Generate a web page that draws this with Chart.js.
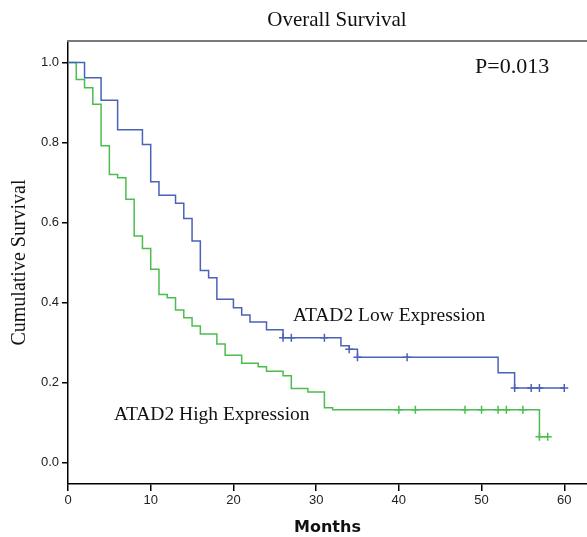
<!DOCTYPE html>
<html><head><meta charset="utf-8">
<script src="https://cdn.jsdelivr.net/npm/chart.js@4.4.0/dist/chart.umd.min.js"></script>
<style>html,body{margin:0;padding:0;background:#fff}#wrap{width:587px;height:537px}</style>
</head><body><div id="wrap"><canvas id="c" width="587" height="537"></canvas></div>
<script>
// ATAD2 Low Expression: event times (months) and survival after each step
const lowTimes = [0, 2, 4, 6, 9, 10, 11, 13, 14, 15, 16, 17, 18, 20, 21, 22, 24, 26, 33, 34, 35, 52, 54, 60];
const lowSurv  = [1.0, 0.962, 0.906, 0.832, 0.795, 0.702, 0.668, 0.648, 0.610, 0.554, 0.480, 0.462, 0.408, 0.387, 0.369, 0.351, 0.332, 0.312, 0.292, 0.283, 0.263, 0.224, 0.186, 0.186];
const lowCensored = [26, 27, 31, 34, 35, 41, 54, 56, 57, 60];

// ATAD2 High Expression
const highTimes = [0, 1, 2, 3, 4, 5, 6, 7, 8, 9, 10, 11, 12, 13, 14, 15, 16, 18, 19, 21, 23, 24, 26, 27, 29, 31, 32, 57, 58];
const highSurv  = [1.0, 0.958, 0.937, 0.896, 0.792, 0.720, 0.712, 0.658, 0.566, 0.535, 0.483, 0.420, 0.412, 0.381, 0.362, 0.341, 0.321, 0.296, 0.268, 0.248, 0.239, 0.228, 0.217, 0.185, 0.176, 0.137, 0.132, 0.064, 0.064];
const highCensored = [40, 42, 48, 50, 52, 53, 55, 57, 58];

const xTicks = [0, 10, 20, 30, 40, 50, 60];
const yTicks = [0.0, 0.2, 0.4, 0.6, 0.8, 1.0];

const chartTitle = 'Overall Survival';
const pValueText = 'P=0.013';
const lowLabel = 'ATAD2 Low Expression';
const highLabel = 'ATAD2 High Expression';

const BLUE = '#4a62b8';
const GREEN = '#4cbc4f';

function stepAt(times, surv, t) {
  let v = surv[0];
  for (let i = 0; i < times.length; i++) { if (times[i] <= t) v = surv[i]; }
  return v;
}
const pts = (times, surv) => times.map((t, i) => ({x: t, y: surv[i]}));
const cens = (list, times, surv) => list.map(t => ({x: t, y: stepAt(times, surv, t)}));

const notes = {
  id: 'notes',
  afterDraw(chart) {
    const c = chart.ctx, a = chart.chartArea;
    c.save();
    c.strokeStyle = '#7a7a7a';
    c.lineWidth = 2;
    c.beginPath(); c.moveTo(a.left - 1, a.top); c.lineTo(a.right, a.top); c.stroke();
    c.fillStyle = '#111';
    c.textBaseline = 'middle';
    c.textAlign = 'center';
    c.font = '21px "Liberation Serif"';
    c.fillText(chartTitle, 337, 20);
    c.textAlign = 'left';
    c.font = '22px "Liberation Serif"';
    c.fillText(pValueText, 475, 67);
    c.font = '19.5px "Liberation Serif"';
    c.fillText(lowLabel, 293, 316);
    c.fillText(highLabel, 114, 415);
    c.restore();
  }
};

new Chart(document.getElementById('c'), {
  type: 'scatter',
  data: {
    datasets: [
      {data: pts(lowTimes, lowSurv), showLine: true, stepped: 'before', borderColor: BLUE, borderWidth: 1.5, pointRadius: 0, fill: false},
      {data: pts(highTimes, highSurv), showLine: true, stepped: 'before', borderColor: GREEN, borderWidth: 1.5, pointRadius: 0, fill: false},
      {data: cens(lowCensored, lowTimes, lowSurv), showLine: false, pointStyle: 'cross', pointRadius: 4, borderColor: BLUE, backgroundColor: BLUE, borderWidth: 1.5},
      {data: cens(highCensored, highTimes, highSurv), showLine: false, pointStyle: 'cross', pointRadius: 4, borderColor: GREEN, backgroundColor: GREEN, borderWidth: 1.5}
    ]
  },
  options: {
    responsive: false,
    animation: false,
    devicePixelRatio: 1,
    layout: {autoPadding: false, padding: {top: 41, left: 0, right: 0, bottom: 0}},
    plugins: {legend: {display: false}, tooltip: {enabled: false}, title: {display: false}},
    scales: {
      x: {
        type: 'linear', min: 0, max: 62.75,
        afterBuildTicks: s => { s.ticks = xTicks.map(v => ({value: v})); },
        afterFit: s => { s.height = 53; },
        grid: {display: true, drawOnChartArea: false, drawTicks: true, tickLength: 7, color: '#000', lineWidth: 1.5},
        border: {display: true, color: '#000', width: 1.5},
        ticks: {color: '#222', font: {family: 'Liberation Sans', size: 13}, padding: 2, maxRotation: 0, autoSkip: false},
        title: {display: true, text: 'Months', color: '#111', font: {family: 'DejaVu Sans', size: 16, weight: 'bold'}, padding: {top: 0, bottom: 0}}
      },
      y: {
        type: 'linear', min: -0.054, max: 1.054,
        afterBuildTicks: s => { s.ticks = yTicks.map(v => ({value: v})); },
        afterFit: s => { s.width = 68; },
        grid: {display: true, drawOnChartArea: false, drawTicks: true, tickLength: 6, color: '#000', lineWidth: 1.5},
        border: {display: true, color: '#000', width: 1.5},
        ticks: {color: '#222', font: {family: 'Liberation Sans', size: 13}, padding: 3, callback: v => Number(v).toFixed(1)},
        title: {display: true, text: 'Cumulative Survival', color: '#111', font: {family: 'Liberation Serif', size: 20}, padding: {top: 8, bottom: 0}}
      }
    }
  },
  plugins: [notes]
});
</script>
</body></html>
